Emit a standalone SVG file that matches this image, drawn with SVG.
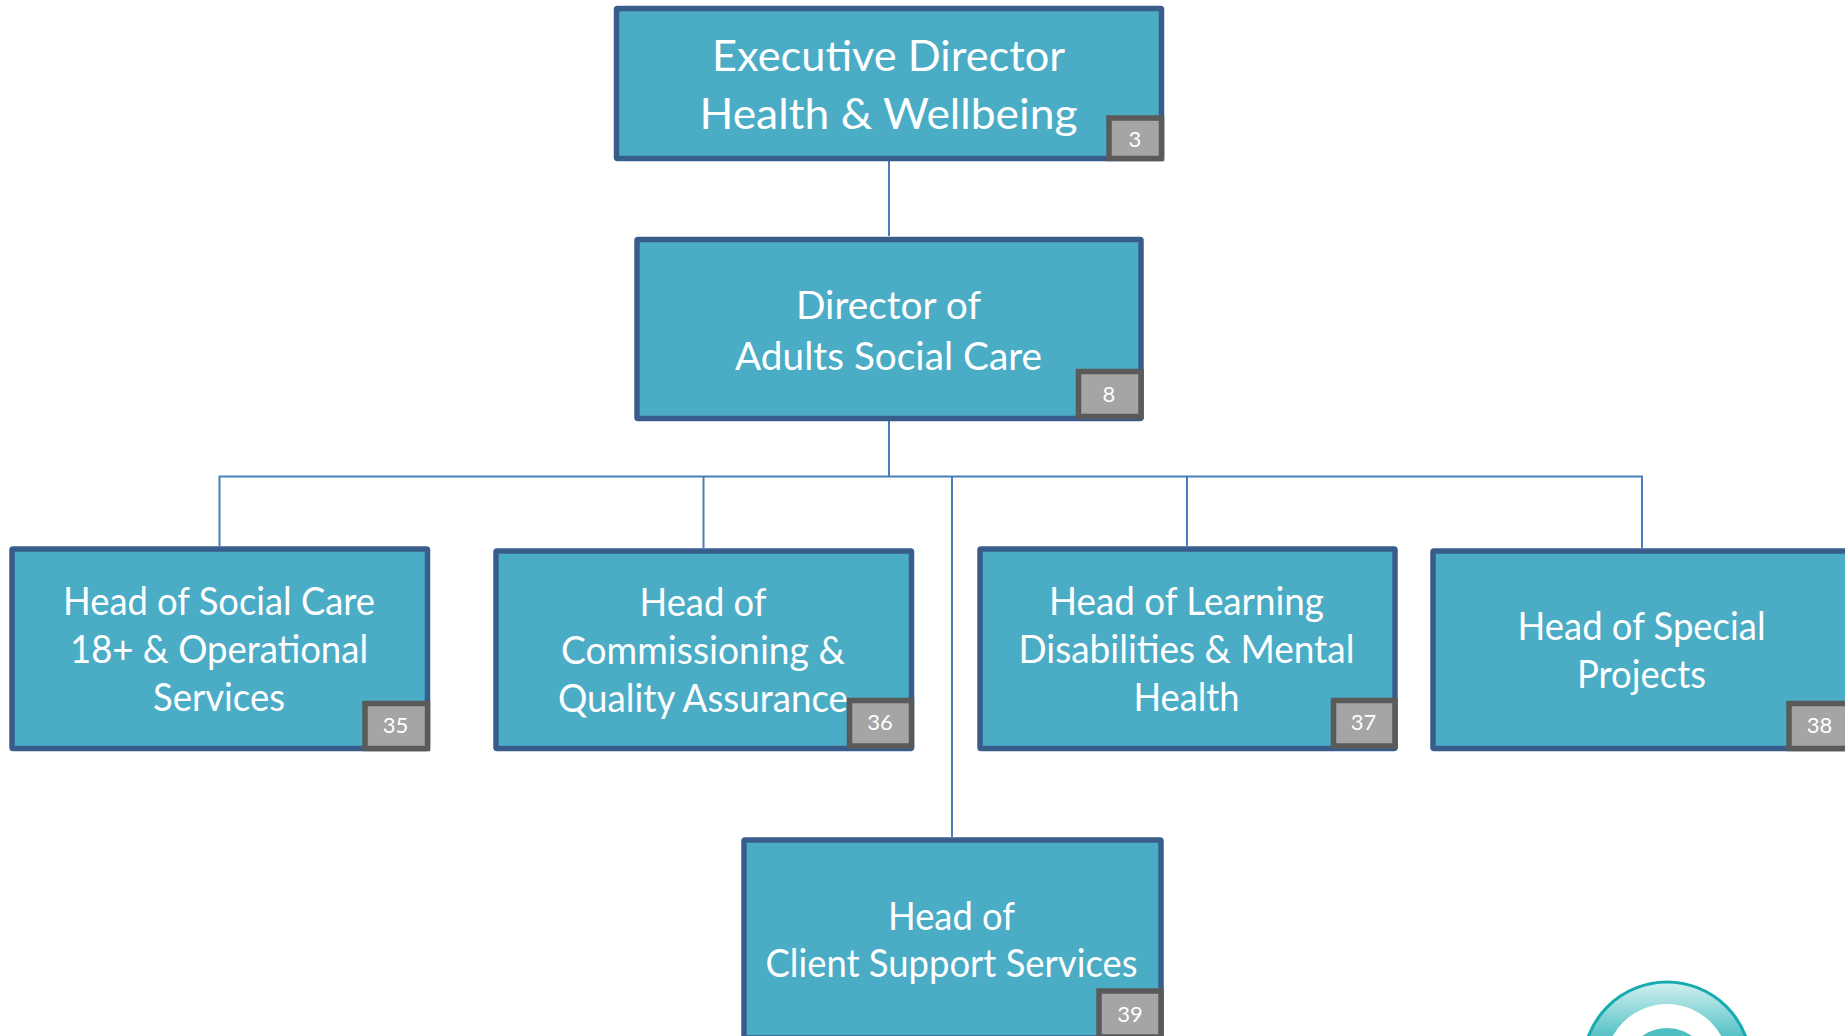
<svg xmlns="http://www.w3.org/2000/svg" width="1845" height="1036" viewBox="0 0 1845 1036">
<style>
.box{fill:#4BACC6;stroke:#385D8A;stroke-width:5.500}
.badge{fill:#A5A5A5;stroke:#5A5A5A;stroke-width:5.500}
.t{font-family:"Lato","Carlito","Open Sans",sans-serif;fill:#fff;text-anchor:middle;font-size:42px}
.t2{font-size:38px}
.t3{font-size:38px}
.b{font-family:"Lato","Open Sans",sans-serif;fill:#fff;text-anchor:middle;font-size:22px}
.c{fill:none;stroke:#4A7EBB;stroke-width:2}
</style>
<defs>
<linearGradient id="ring" x1="0" y1="0" x2="0" y2="1"><stop offset="0" stop-color="#D2F0F0"/><stop offset="0.32" stop-color="#58C3C7"/><stop offset="1" stop-color="#1FAFB5"/></linearGradient>
</defs>
<rect width="1845" height="1036" fill="#fff"/>
<g id="connectors">
<path class="c" d="M889 161V236M889 421V476.500M219.500 546V476.500H1642V548M703.500 476.500V548M952 476.500V837M1187 476.500V546"/>
</g>
<g id="logo">
<circle cx="1667" cy="1066" r="84" fill="url(#ring)" stroke="#17ABB1" stroke-width="3"/>
<circle cx="1667" cy="1066" r="62" fill="#fff"/>
<circle cx="1667" cy="1071" r="43" fill="#4FBFC4"/>
</g>
<g id="node-exec">
<rect class="box" x="616.500" y="8.500" width="545" height="150" rx="1"/>
<text class="t" x="888.500" y="70.500" textLength="353" lengthAdjust="spacingAndGlyphs">Executive Director</text>
<text class="t" x="888.500" y="128.500" textLength="378" lengthAdjust="spacingAndGlyphs">Health &amp; Wellbeing</text>
<rect class="badge" x="1109" y="118" width="52.500" height="40.500"/>
<text class="b" x="1135" y="147">3</text>
</g>
<g id="node-director">
<rect class="box" x="637" y="239.500" width="504" height="179" rx="1"/>
<text class="t t3" x="888.500" y="318.500" textLength="185" lengthAdjust="spacingAndGlyphs">Director of</text>
<text class="t t3" x="888.500" y="369.500" textLength="307" lengthAdjust="spacingAndGlyphs">Adults Social Care</text>
<rect class="badge" x="1078.500" y="371.500" width="62.500" height="45"/>
<text class="b" x="1109" y="402">8</text>
</g>
<g id="node-social-care">
<rect class="box" x="12" y="549" width="415.500" height="199.500" rx="1"/>
<text class="t t2" x="219" y="615" textLength="312" lengthAdjust="spacingAndGlyphs">Head of Social Care</text>
<text class="t t2" x="219" y="663" textLength="298" lengthAdjust="spacingAndGlyphs">18+ &amp; Operational</text>
<text class="t t2" x="219" y="711" textLength="132" lengthAdjust="spacingAndGlyphs">Services</text>
<rect class="badge" x="365" y="703.500" width="62.500" height="45"/>
<text class="b" x="395.500" y="733">35</text>
</g>
<g id="node-commissioning">
<rect class="box" x="496" y="551" width="415.500" height="197.500" rx="1"/>
<text class="t t2" x="703" y="616" textLength="127" lengthAdjust="spacingAndGlyphs">Head of</text>
<text class="t t2" x="703" y="664" textLength="284" lengthAdjust="spacingAndGlyphs">Commissioning &amp;</text>
<text class="t t2" x="703" y="712" textLength="290" lengthAdjust="spacingAndGlyphs">Quality Assurance</text>
<rect class="badge" x="849.500" y="700.500" width="62" height="45.500"/>
<text class="b" x="880" y="730">36</text>
</g>
<g id="node-learning">
<rect class="box" x="980" y="549" width="415" height="199.500" rx="1"/>
<text class="t t2" x="1186.500" y="615" textLength="275" lengthAdjust="spacingAndGlyphs">Head of Learning</text>
<text class="t t2" x="1186.500" y="663" textLength="336" lengthAdjust="spacingAndGlyphs">Disabilities &amp; Mental</text>
<text class="t t2" x="1186.500" y="711" textLength="106" lengthAdjust="spacingAndGlyphs">Health</text>
<rect class="badge" x="1333.500" y="700.500" width="61.500" height="45.500"/>
<text class="b" x="1363.500" y="730">37</text>
</g>
<g id="node-special">
<rect class="box" x="1433" y="551" width="420" height="197.500" rx="1"/>
<text class="t t2" x="1641.500" y="640" textLength="248" lengthAdjust="spacingAndGlyphs">Head of Special</text>
<text class="t t2" x="1641.500" y="688" textLength="129" lengthAdjust="spacingAndGlyphs">Projects</text>
<rect class="badge" x="1789" y="703.500" width="64" height="45"/>
<text class="b" x="1819.500" y="733">38</text>
</g>
<g id="node-client">
<rect class="box" x="744" y="840" width="417" height="198" rx="1"/>
<text class="t t2" x="951.500" y="930" textLength="127" lengthAdjust="spacingAndGlyphs">Head of</text>
<text class="t t2" x="951.500" y="977" textLength="372" lengthAdjust="spacingAndGlyphs">Client Support Services</text>
<rect class="badge" x="1099" y="991" width="62" height="46"/>
<text class="b" x="1130" y="1022">39</text>
</g>
</svg>
